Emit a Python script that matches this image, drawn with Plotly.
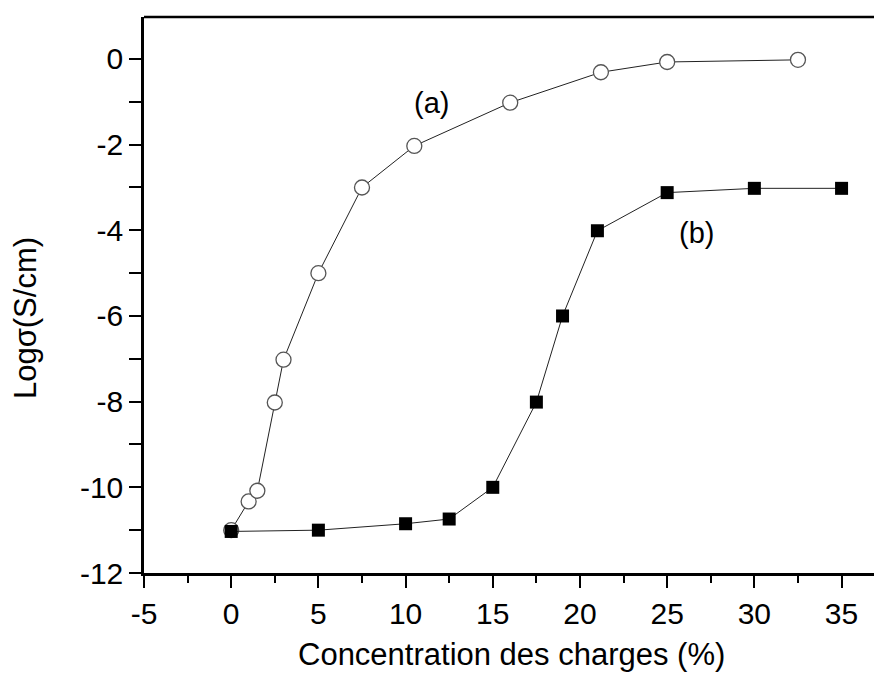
import plotly.graph_objects as go

# Series (a): open circles
xa = [0, 1, 1.5, 2.5, 3, 5, 7.5, 10.5, 16, 21.2, 25, 32.5]
ya = [-11, -10.33, -10.08, -8.02, -7.02, -5.0, -3.0, -2.03, -1.02, -0.31, -0.07, -0.02]

# Series (b): filled squares
xb = [0, 5, 10, 12.5, 15, 17.5, 19, 21, 25, 30, 35]
yb = [-11.03, -11.0, -10.85, -10.74, -10.0, -8.01, -6.0, -4.01, -3.12, -3.02, -3.02]

x_ticks = [-5, 0, 5, 10, 15, 20, 25, 30, 35]
x_labels = ["-5", "0", "5", "10", "15", "20", "25", "30", "35"]
y_ticks = [0, -2, -4, -6, -8, -10, -12]
y_labels = ["0", "-2", "-4", "-6", "-8", "-10", "-12"]

FONT = "Liberation Sans, Arial, sans-serif"

fig = go.Figure()
fig.add_trace(go.Scatter(
    x=xa, y=ya, mode="lines+markers",
    line=dict(color="#222222", width=1),
    marker=dict(symbol="circle", size=15, color="white",
                line=dict(color="#555555", width=1.3)),
    showlegend=False, cliponaxis=False))
fig.add_trace(go.Scatter(
    x=xb, y=yb, mode="lines+markers",
    line=dict(color="#222222", width=1),
    marker=dict(symbol="square", size=13, color="black",
                line=dict(color="black", width=0)),
    showlegend=False, cliponaxis=False))

fig.add_annotation(x=11.5, y=-1.035, text="(a)", showarrow=False,
                   font=dict(family=FONT, size=29, color="black"))
fig.add_annotation(x=26.7, y=-4.06, text="(b)", showarrow=False,
                   font=dict(family=FONT, size=29, color="black"))

# axis titles
fig.add_annotation(x=0.504, y=-0.146, xref="paper", yref="paper",
                   text="Concentration des charges (%)", showarrow=False,
                   font=dict(family=FONT, size=31, color="black"),
                   xanchor="center", yanchor="middle")
fig.add_annotation(x=-0.162, y=0.458, xref="paper", yref="paper",
                   text="Logσ(S/cm)", showarrow=False, textangle=-90,
                   font=dict(family=FONT, size=31, color="black"),
                   xanchor="center", yanchor="middle")

# top frame line
fig.add_shape(type="line", xref="paper", yref="paper", x0=0, x1=1, y0=1, y1=1,
              line=dict(color="black", width=2.5))

fig.update_xaxes(range=[-5, 36.86], tickvals=x_ticks, ticktext=x_labels,
                 ticks="outside", automargin=False,
                 ticklen=12, tickwidth=2, tickcolor="black",
                 showline=True, linecolor="black", linewidth=2.5,
                 showgrid=False, zeroline=False,
                 tickfont=dict(family=FONT, size=30, color="black"),
                 minor=dict(dtick=2.5, tick0=0, ticks="outside", ticklen=7,
                            tickwidth=2, tickcolor="black", showgrid=False))
fig.update_yaxes(range=[-12, 0.98], tickvals=y_ticks, ticktext=y_labels,
                 ticks="outside", automargin=False,
                 ticklen=12, tickwidth=2, tickcolor="black",
                 showline=True, linecolor="black", linewidth=2.5,
                 showgrid=False, zeroline=False,
                 tickfont=dict(family=FONT, size=30, color="black"),
                 minor=dict(dtick=1, tick0=-11, ticks="outside", ticklen=12,
                            tickwidth=2, tickcolor="black", showgrid=False))

fig.update_layout(width=874, height=673,
                  margin=dict(l=144, r=0, t=17, b=100),
                  paper_bgcolor="white", plot_bgcolor="white")

fig.write_html("out.html", config={"displayModeBar": False},
               post_script="document.body.style.margin='0';document.body.style.overflow='hidden';")
